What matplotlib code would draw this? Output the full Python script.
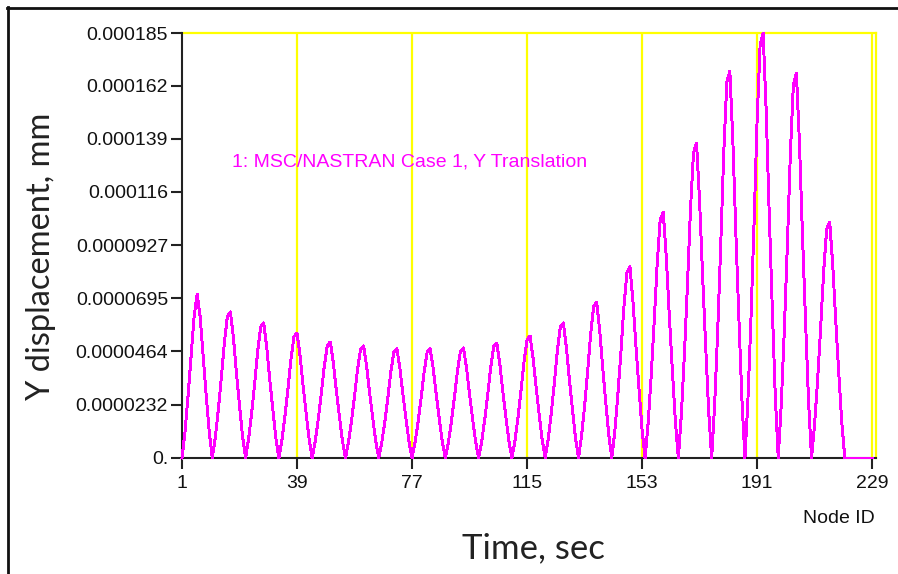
import matplotlib.pyplot as plt
from matplotlib import font_manager as fm
from matplotlib.lines import Line2D
import numpy as np

# Y displacement per node (units of 1e-6 mm), node IDs 1..229
seg_01 = [0.0, 11.4, 27.1, 44.3, 61.4, 71.4, 61.4, 44.3, 27.1, 11.4, 0.0]
seg_02 = [8.9, 21.0, 35.0, 50.2, 61.7, 63.6, 52.2, 36.9, 22.9, 9.5, 0.0]
seg_03 = [8.2, 19.4, 32.3, 46.5, 57.0, 58.8, 48.2, 34.1, 21.2, 8.8, 0.0]
seg_04 = [7.6, 18.0, 29.9, 43.0, 52.8, 54.4, 44.6, 31.6, 19.6, 8.2, 0.0]
seg_05 = [7.1, 16.7, 27.8, 39.9, 49.0, 50.5, 41.4, 29.3, 18.2, 7.6, 0.0]
seg_06 = [6.8, 16.1, 26.8, 38.6, 47.3, 48.8, 40.0, 28.3, 17.6, 7.3, 0.0]
seg_07 = [6.7, 15.7, 26.1, 37.5, 46.1, 47.5, 39.0, 27.6, 17.1, 7.1, 0.0]
seg_08 = [6.7, 15.7, 26.1, 37.5, 46.1, 47.5, 39.0, 27.6, 17.1, 7.1, 0.0]
seg_09 = [6.7, 15.8, 26.3, 37.8, 46.5, 47.9, 39.3, 27.8, 17.2, 7.2, 0.0]
seg_10 = [7.0, 16.5, 27.5, 39.5, 48.5, 50.0, 41.0, 29.0, 18.0, 7.5, 0.0]
seg_11 = [7.4, 17.5, 29.2, 41.9, 51.5, 53.1, 43.5, 30.8, 19.1, 8.0, 0.0]
seg_12 = [8.2, 19.4, 32.3, 46.5, 57.0, 58.8, 48.2, 34.1, 21.2, 8.8, 0.0]
seg_13 = [9.5, 22.4, 37.3, 53.6, 65.9, 67.9, 55.7, 39.4, 24.4, 10.2, 0.0]
seg_14 = [11.6, 27.5, 45.8, 65.7, 80.7, 83.2, 68.2, 48.3, 30.0, 12.5, 0.0]
seg_15 = [15.0, 35.3, 58.9, 84.5, 103.8, 107.0, 87.7, 62.1, 38.5, 16.1, 0.0]
seg_16 = [19.2, 45.2, 75.4, 108.2, 132.9, 137.0, 112.3, 79.5, 49.3, 20.6, 0.0]
seg_17 = [23.6, 55.6, 92.7, 133.1, 163.4, 168.5, 138.2, 97.7, 60.7, 25.3, 0.0]
seg_18 = [25.9, 61.1, 101.8, 146.2, 179.5, 185.0, 151.7, 107.3, 66.6, 27.8, 0.0]
seg_19 = [23.5, 55.3, 92.2, 132.4, 162.6, 167.6, 137.4, 97.2, 60.3, 25.1, 0.0]
seg_20 = [14.4, 33.9, 56.5, 81.1, 99.6, 102.7, 84.2, 59.6, 37.0, 15.4, 0.0]
seg_tail = [0.0, 0.0, 0.0, 0.0, 0.0, 0.0, 0.0, 0.0, 0.0]

segments = [seg_01, seg_02, seg_03, seg_04, seg_05, seg_06, seg_07, seg_08,
            seg_09, seg_10, seg_11, seg_12, seg_13, seg_14, seg_15, seg_16,
            seg_17, seg_18, seg_19, seg_20, seg_tail]

x_ticks = [1, 39, 77, 115, 153, 191, 229]
grid_x = [39, 77, 115, 153, 191, 229]
y_ticks = [0.0, 0.0000232, 0.0000464, 0.0000695, 0.0000927,
           0.000116, 0.000139, 0.000162, 0.000185]
y_labels = ["0.", "0.0000232", "0.0000464", "0.0000695", "0.0000927",
            "0.000116", "0.000139", "0.000162", "0.000185"]

disp = np.concatenate(segments) * 1e-6
nodes = np.arange(1, len(disp) + 1)


def have_font(name):
    try:
        fm.findfont(fm.FontProperties(family=name), fallback_to_default=False)
        return True
    except ValueError:
        return False


# narrow face for the plot annotations if one is around
small_font, small_size = "Liberation Sans", 14
for name, size in [("Liberation Sans Narrow", 16), ("Noto Sans Condensed", 15.5),
                   ("DejaVu Sans Condensed", 14.5)]:
    if have_font(name):
        small_font, small_size = name, size
        break

plt.rcParams['font.family'] = [small_font, 'DejaVu Sans']

W, H = 898, 574
fig = plt.figure(figsize=(W / 100, H / 100), dpi=100)
ax = fig.add_axes([182 / W, 1 - 458 / H, (876 - 182) / W, (458 - 33) / H])

ax.set_xlim(1, 230.3)
ax.set_ylim(0, 0.000185)

# yellow frame lines
yel = "#ffff00"
ax.axhline(0.000185, color=yel, lw=1.6, zorder=1, clip_on=False)
for gx in grid_x:
    ax.axvline(gx, color=yel, lw=1.6, zorder=1)
ax.axvline(230.3, color=yel, lw=1.6, zorder=1, clip_on=False)

ax.plot(nodes, disp, color="#ff00ff", lw=1.4, antialiased=False, zorder=3, clip_on=False)

for s in ["top", "right"]:
    ax.spines[s].set_visible(False)
for s in ["left", "bottom"]:
    ax.spines[s].set_color("#222222")
    ax.spines[s].set_linewidth(1.5)
    ax.spines[s].set_zorder(2)

ax.set_xticks(x_ticks)
ax.set_yticks(y_ticks)
ax.set_yticklabels(y_labels)
ax.tick_params(direction="out", length=8, width=1.5, color="#222222",
               labelsize=small_size, labelcolor="#111111")
ax.tick_params(axis="y", pad=2)
ax.tick_params(axis="x", pad=4)

fig.text(232 / W, 1 - 166 / H, "1: MSC/NASTRAN Case 1, Y Translation",
         color="#ff00ff", fontsize=small_size, va="baseline")
fig.text(875 / W, 1 - 523 / H, "Node ID", ha="right", va="baseline",
         fontsize=small_size, color="#111111")

fig.text(533 / W, 1 - 558 / H, "Time, sec", ha="center", va="baseline",
         fontsize=25, family="Lato", color="#222222")
fig.text(41 / W, 1 - 256 / H, "Y displacement, mm", ha="center", va="center",
         rotation=90, fontsize=23.5, family="Lato", color="#222222")

# outer border, top and left
fig.add_artist(Line2D([7 / W, 1.0], [1 - 7.5 / H, 1 - 7.5 / H], color="#111111", lw=2))
fig.add_artist(Line2D([7.5 / W, 7.5 / W], [0.0, 1 - 7 / H], color="#111111", lw=2))

fig.savefig("out.png", dpi=100)
